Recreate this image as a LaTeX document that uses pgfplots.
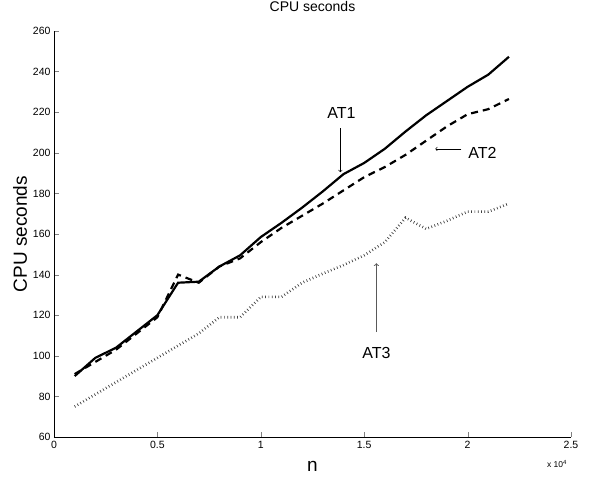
\documentclass[border=0pt]{standalone}
\usepackage{pgfplots}
\pgfplotsset{compat=1.18}
\usepackage{fontspec}
\setmainfont{Liberation Sans}
\begin{document}
\begin{tikzpicture}
\begin{axis}[
  scale only axis,
  width=517bp, height=406bp,
  xmin=0, xmax=25000, ymin=60, ymax=260,
  axis x line*=bottom, axis y line*=left,
  tick align=inside,
  major tick length=5bp,
  xtick={0,5000,10000,15000,20000,25000},
  xticklabels={0,0.5,1,1.5,2,2.5},
  scaled x ticks=false,
  ytick={60,80,...,260},
  /pgf/number format/assume math mode=true,
  tick label style={font=\fontsize{10.5bp}{12bp}\selectfont},
  xticklabel style={yshift=-1bp},
  title={CPU seconds},
  title style={font=\fontsize{14bp}{16bp}\selectfont, at={(axis description cs:0.5,1)}, anchor=base, yshift=14bp},
  xlabel={n},
  xlabel style={font=\fontsize{19bp}{22bp}\selectfont, at={(axis description cs:0.5,0)}, anchor=center, yshift=-29bp},
  ylabel={CPU seconds},
  ylabel style={font=\fontsize{19bp}{22bp}\selectfont, at={(axis description cs:-0.0658,0.5)}, anchor=center},
  axis line style={line width=0.8bp},
  clip=false,
]
\addplot[black, line width=2.2bp] coordinates {
(1000,90) (2000,99) (3000,104) (4000,112) (5000,120) (6000,136) (7000,136.5)
(8000,144) (9000,149.5) (10000,158.5) (11000,165.5) (12000,173) (13000,181)
(14000,189.5) (15000,195) (16000,202) (17000,210.5) (18000,218.5) (19000,225.5)
(20000,232.5) (21000,238.5) (22000,247.3)
};
\addplot[black, line width=2.2bp, dash pattern=on 7bp off 5bp] coordinates {
(1000,91) (2000,97) (3000,103) (4000,111) (5000,119) (6000,140) (7000,136)
(8000,144) (9000,148) (10000,156) (11000,163) (12000,169) (13000,175)
(14000,181.5) (15000,188) (16000,193) (17000,199) (18000,206) (19000,213)
(20000,219) (21000,221.5) (22000,226.5)
};
\addplot[black!75, line width=2.6bp, dash pattern=on 0.7bp off 2.6bp] coordinates {
(1000,75) (2000,81) (3000,87) (4000,93) (5000,99) (6000,105) (7000,111)
(8000,119) (9000,119) (10000,129) (11000,129) (12000,136) (13000,140.5)
(14000,144.7) (15000,149.5) (16000,156) (17000,168) (18000,162.5) (19000,166.5)
(20000,171) (21000,171) (22000,175)
};
\draw[->, line width=0.6bp] (axis cs:13850,212.2) -- (axis cs:13850,190.5);
\node[font=\fontsize{16bp}{18bp}\selectfont] at (axis cs:13900,219.8) {AT1};
\draw[->, line width=0.6bp] (axis cs:19700,201.9) -- (axis cs:18440,201.9);
\node[font=\fontsize{16bp}{18bp}\selectfont] at (axis cs:20720,200) {AT2};
\draw[->, line width=0.9bp, black!65] (axis cs:15590,111.7) -- (axis cs:15590,145.6);
\node[font=\fontsize{16bp}{18bp}\selectfont] at (axis cs:15590,101.4) {AT3};
\node[font=\fontsize{8.5bp}{10bp}\selectfont] at ([xshift=-14bp,yshift=-27bp]rel axis cs:1,0) {x 10\textsuperscript{4}};
\end{axis}
\pgfresetboundingbox
\path[use as bounding box] ([xshift=-54bp,yshift=-42bp]current axis.south west) rectangle ([xshift=21bp,yshift=31bp]current axis.north east);
\end{tikzpicture}
\end{document}
